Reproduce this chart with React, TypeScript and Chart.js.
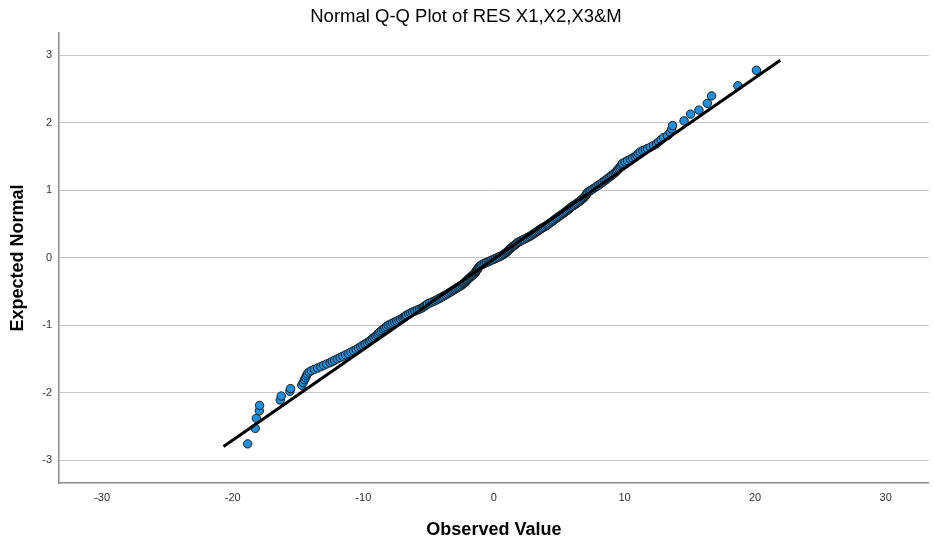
import React, { useEffect, useRef } from "react";
import { Chart, registerables } from "chart.js";

Chart.register(...registerables);

const chartTitle = "Normal Q-Q Plot of RES X1,X2,X3&M";
const xAxisTitle = "Observed Value";
const yAxisTitle = "Expected Normal";
const xTickValues = [-30, -20, -10, 0, 10, 20, 30];
const yTickValues = [-3, -2, -1, 0, 1, 2, 3];

// Observed residual values (x) and their expected normal quantiles (y), in rank order
const observedValues = [
  -18.85, -18.27, -18.19, -17.96, -17.94, -16.36, -16.28, -15.62, -15.57, -14.71,
  -14.6, -14.5, -14.42, -14.35, -14.28, -14.15, -13.98, -13.75, -13.5, -13.25,
  -13.03, -12.8, -12.54, -12.38,
  -12.2, -12.0, -11.78, -11.57, -11.36, -11.15, -10.95, -10.75, -10.55, -10.37,
  -10.2, -10.04, -9.87, -9.7, -9.55, -9.43, -9.3, -9.17, -9.05, -8.95,
  -8.84, -8.73, -8.6, -8.47, -8.35, -8.22, -8.09,
  -7.93, -7.77, -7.6, -7.44, -7.27, -7.12, -6.98, -6.87, -6.77, -6.69,
  -6.53, -6.38, -6.23, -6.05, -5.86, -5.68, -5.51, -5.4, -5.29, -5.18,
  -5.08, -4.9, -4.72, -4.53, -4.39, -4.24, -4.1, -3.96, -3.82, -3.68,
  -3.55, -3.43, -3.3,
  -3.18, -3.08, -2.98, -2.88, -2.77, -2.67, -2.57, -2.46, -2.38, -2.3,
  -2.23, -2.17, -2.11, -2.06, -2.0, -1.93, -1.86, -1.79, -1.73, -1.66,
  -1.58, -1.51, -1.45, -1.41, -1.37, -1.33, -1.29, -1.25, -1.2, -1.15,
  -1.1, -1.04, -0.95, -0.83, -0.7, -0.57, -0.43, -0.29, -0.15, 0.0,
  0.14, 0.28, 0.42, 0.55, 0.66, 0.77, 0.86, 0.94, 1.01, 1.08,
  1.14, 1.2, 1.27, 1.35, 1.43, 1.52, 1.6, 1.68, 1.76, 1.84,
  1.95, 2.08, 2.21, 2.34, 2.47, 2.6, 2.72, 2.83, 2.93, 3.03,
  3.12, 3.22, 3.31, 3.4, 3.49, 3.59, 3.69, 3.8, 3.92, 4.03, 4.12,
  4.22, 4.33, 4.44, 4.54, 4.64, 4.75, 4.86, 4.96, 5.07, 5.18,
  5.29, 5.4, 5.5, 5.6, 5.69, 5.78, 5.87, 5.98, 6.1, 6.22,
  6.33, 6.44, 6.55, 6.65, 6.74, 6.83, 6.91, 6.98, 7.04, 7.08,
  7.12, 7.18, 7.3, 7.42,
  7.58, 7.74, 7.89, 8.04, 8.19, 8.33, 8.47, 8.6, 8.74, 8.87,
  9.01, 9.14, 9.27, 9.37, 9.46, 9.55, 9.64, 9.72, 9.79, 9.85,
  10.04, 10.23, 10.45, 10.62, 10.8,
  10.95, 11.05, 11.2, 11.4, 11.6, 11.76, 11.98, 12.22, 12.45, 12.62,
  12.8, 12.98, 13.28, 13.5, 13.62, 13.68, 14.56, 15.06, 15.7, 16.34,
  16.67, 18.68, 20.1,
];

const expectedNormal = [
  -2.76, -2.53, -2.38, -2.27, -2.19, -2.11, -2.05, -1.98, -1.94, -1.89,
  -1.85, -1.81, -1.78, -1.75, -1.72, -1.695, -1.675, -1.655, -1.635, -1.615,
  -1.595, -1.575, -1.555, -1.537,
  -1.52, -1.5, -1.48, -1.46, -1.44, -1.42, -1.4, -1.38, -1.36, -1.34,
  -1.32, -1.3, -1.28, -1.26, -1.24, -1.22, -1.2, -1.18, -1.16, -1.14,
  -1.12, -1.1, -1.08, -1.06, -1.04, -1.02, -1.0,
  -0.985, -0.97, -0.955, -0.94, -0.925, -0.91, -0.895, -0.88, -0.865, -0.85,
  -0.835, -0.82, -0.805, -0.79, -0.775, -0.76, -0.745, -0.73, -0.715, -0.7,
  -0.685, -0.67, -0.655, -0.64, -0.625, -0.61, -0.595, -0.58, -0.565, -0.55,
  -0.535, -0.52, -0.505,
  -0.49, -0.478, -0.466, -0.454, -0.442, -0.43, -0.418, -0.406, -0.394, -0.382,
  -0.37, -0.358, -0.346, -0.334, -0.322, -0.31, -0.298, -0.286, -0.274, -0.262,
  -0.25, -0.238, -0.226, -0.214, -0.202, -0.19, -0.178, -0.166, -0.154, -0.142,
  -0.13, -0.118, -0.106, -0.094, -0.082, -0.07, -0.058, -0.046, -0.034, -0.022,
  -0.01, 0.003, 0.015, 0.028, 0.04, 0.053, 0.065, 0.078, 0.09, 0.103,
  0.115, 0.128, 0.14, 0.153, 0.165, 0.178, 0.19, 0.203, 0.215, 0.228,
  0.24, 0.253, 0.265, 0.278, 0.29, 0.303, 0.315, 0.328, 0.34, 0.353,
  0.365, 0.378, 0.39, 0.403, 0.415, 0.428, 0.44, 0.453, 0.465, 0.478, 0.49,
  0.505, 0.52, 0.535, 0.55, 0.565, 0.58, 0.595, 0.61, 0.625, 0.64,
  0.655, 0.67, 0.685, 0.7, 0.715, 0.73, 0.745, 0.76, 0.775, 0.79,
  0.805, 0.82, 0.835, 0.85, 0.865, 0.88, 0.895, 0.91, 0.925, 0.94,
  0.955, 0.97, 0.985, 1.0,
  1.02, 1.04, 1.06, 1.08, 1.1, 1.12, 1.14, 1.16, 1.18, 1.2,
  1.22, 1.24, 1.26, 1.28, 1.3, 1.32, 1.34, 1.36, 1.38, 1.4,
  1.42, 1.44, 1.46, 1.48, 1.5,
  1.52, 1.545, 1.57, 1.59, 1.605, 1.62, 1.64, 1.665, 1.69, 1.72,
  1.75, 1.78, 1.81, 1.86, 1.91, 1.96, 2.03, 2.13, 2.19, 2.29,
  2.4, 2.55, 2.78,
];

// Reference (normal) line end points
const refLineObserved = [-20.7, 21.93];
const refLineExpected = [-2.8, 2.93];

const FONT = "'Liberation Sans', Arial, Helvetica, sans-serif";

export default function App() {
  const canvasRef = useRef<HTMLCanvasElement>(null);

  useEffect(() => {
    if (!canvasRef.current) return;
    const points = observedValues.map((x, i) => ({ x, y: expectedNormal[i] }));
    const line = refLineObserved.map((x, i) => ({ x, y: refLineExpected[i] }));

    const chart = new Chart(canvasRef.current, {
      type: "scatter",
      data: {
        datasets: [
          {
            type: "line",
            data: line,
            borderColor: "#000000",
            borderWidth: 3,
            pointRadius: 0,
            fill: false,
            order: 0,
          } as any,
          {
            type: "scatter",
            data: points,
            pointRadius: 4.2,
            backgroundColor: "#1f8fe0",
            borderColor: "#1a1a1a",
            borderWidth: 1,
            order: 1,
          } as any,
        ],
      },
      options: {
        responsive: false,
        animation: false,
        layout: { padding: { left: 0, right: 2, top: 0, bottom: 0 } },
        plugins: {
          legend: { display: false },
          tooltip: { enabled: false },
          title: {
            display: true,
            text: chartTitle,
            color: "#000000",
            font: { family: FONT, size: 18.5, weight: "normal" },
            padding: { top: 6, bottom: 5 },
          },
        },
        scales: {
          x: {
            type: "linear",
            min: -33.3,
            max: 33.3,
            afterBuildTicks: (s: any) => {
              s.ticks = xTickValues.map((v) => ({ value: v }));
            },
            afterFit: (s: any) => {
              s.height = 61;
            },
            grid: { display: false, drawTicks: false },
            border: { display: true, color: "#8a8a8a", width: 1.5 },
            ticks: {
              color: "#333333",
              font: { family: FONT, size: 11 },
              padding: 8,
              maxRotation: 0,
            },
            title: {
              display: true,
              text: xAxisTitle,
              color: "#000000",
              font: { family: FONT, size: 18, weight: "bold" },
              padding: { top: 0, bottom: 3 },
            },
          },
          y: {
            type: "linear",
            min: -3.34,
            max: 3.33,
            afterBuildTicks: (s: any) => {
              s.ticks = yTickValues.map((v) => ({ value: v }));
            },
            afterFit: (s: any) => {
              s.width = 59;
            },
            grid: { color: "#c6c6c6", lineWidth: 1, drawTicks: false },
            border: { display: true, color: "#8a8a8a", width: 1.5 },
            ticks: {
              color: "#333333",
              font: { family: FONT, size: 11 },
              padding: 7,
            },
            title: {
              display: true,
              text: yAxisTitle,
              color: "#000000",
              font: { family: FONT, size: 18, weight: "bold" },
              padding: { top: 7, bottom: 0 },
            },
          },
        },
      },
    });
    return () => chart.destroy();
  }, []);

  return (
    <div
      style={{
        position: "absolute",
        left: 0,
        top: 0,
        width: 934,
        height: 544,
        background: "#ffffff",
      }}
    >
      <canvas ref={canvasRef} width={934} height={544} style={{ display: "block" }} />
    </div>
  );
}
